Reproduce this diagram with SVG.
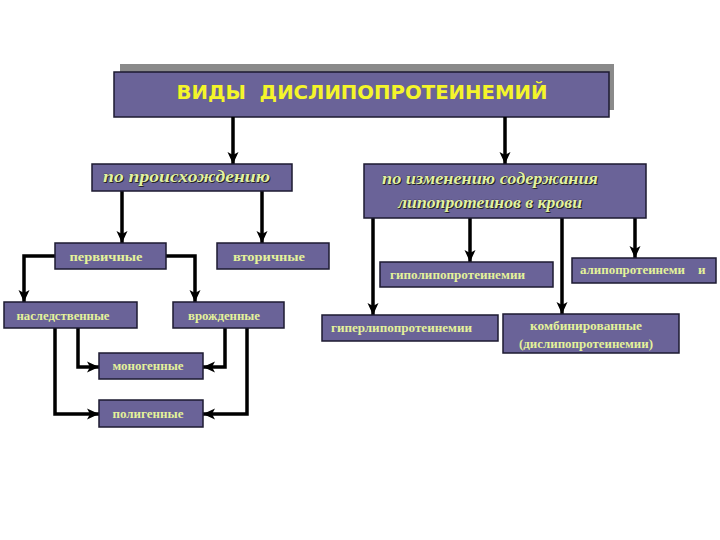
<svg xmlns="http://www.w3.org/2000/svg" width="720" height="540" viewBox="0 0 720 540">
<style>
.box{fill:#6a6398;stroke:#1c1a30;stroke-width:1.5}
.t{font-family:"Liberation Serif",serif;font-weight:bold;font-size:13px;fill:#e4f29a}
.h{font-family:"Liberation Serif",serif;font-weight:bold;font-style:italic;font-size:17px;fill:#e2f3a0;stroke:#2a2740;stroke-width:0.4;paint-order:stroke}
.hs{font-family:"Liberation Serif",serif;font-weight:bold;font-style:italic;font-size:17px;fill:#222}
.title{font-family:"DejaVu Sans","Liberation Sans",sans-serif;font-weight:bold;font-size:20px;fill:#f4f52a}
.c{fill:none;stroke:#000;stroke-width:3.5;marker-end:url(#ah)}
</style>
<defs>
<marker id="ah" markerUnits="userSpaceOnUse" markerWidth="14" markerHeight="14" viewBox="0 0 14 14" refX="13" refY="7" orient="auto">
<path d="M1,1.5 L13,7 L1,12.5 L4,7 Z" fill="#000"/>
</marker>
</defs>
<rect width="720" height="540" fill="#fff"/>
<g id="title">
<rect x="120" y="64" width="494" height="46" fill="#8a8a8a"/>
<rect class="box" x="114" y="72" width="495" height="45"/>
<text class="title" x="362" y="99" text-anchor="middle" textLength="371" lengthAdjust="spacingAndGlyphs" xml:space="preserve">ВИДЫ  ДИСЛИПОПРОТЕИНЕМИЙ</text>
</g>
<g id="connectors">
<path class="c" d="M233,117 V164"/>
<path class="c" d="M505,117 V164"/>
<path class="c" d="M122,191 V243"/>
<path class="c" d="M262,191 V243"/>
<path class="c" d="M55,256 H24 V302"/>
<path class="c" d="M166,256 H195 V302"/>
<path class="c" d="M78,328 V367 H99"/>
<path class="c" d="M55,328 V414 H99"/>
<path class="c" d="M225,328 V367 H203"/>
<path class="c" d="M247,328 V414 H203"/>
<path class="c" d="M373,218 V315"/>
<path class="c" d="M470,218 V262"/>
<path class="c" d="M562,218 V314"/>
<path class="c" d="M635,218 V258"/>
</g>
<g id="origin">
<rect class="box" x="92" y="164" width="200" height="27"/>
<text class="hs" x="104" y="183" textLength="167" lengthAdjust="spacingAndGlyphs">по происхождению</text>
<text class="h" x="103" y="182" textLength="167" lengthAdjust="spacingAndGlyphs">по происхождению</text>
</g>
<g id="content">
<rect class="box" x="364" y="164" width="282" height="54"/>
<text class="hs" x="383" y="185" textLength="216" lengthAdjust="spacingAndGlyphs">по изменению содержания</text>
<text class="h" x="382" y="184" textLength="216" lengthAdjust="spacingAndGlyphs">по изменению содержания</text>
<text class="hs" x="399" y="209" textLength="184" lengthAdjust="spacingAndGlyphs">липопротеинов в крови</text>
<text class="h" x="398" y="208" textLength="184" lengthAdjust="spacingAndGlyphs">липопротеинов в крови</text>
</g>
<g id="primary">
<rect class="box" x="55" y="243" width="111" height="26"/>
<text class="t" x="106" y="261" text-anchor="middle" textLength="73" lengthAdjust="spacingAndGlyphs">первичные</text>
</g>
<g id="secondary">
<rect class="box" x="217" y="243" width="112" height="26"/>
<text class="t" x="269" y="261" text-anchor="middle" textLength="72" lengthAdjust="spacingAndGlyphs">вторичные</text>
</g>
<g id="hereditary">
<rect class="box" x="4" y="302" width="133" height="26"/>
<text class="t" x="63" y="320" text-anchor="middle" textLength="93" lengthAdjust="spacingAndGlyphs">наследственные</text>
</g>
<g id="congenital">
<rect class="box" x="173" y="302" width="111" height="26"/>
<text class="t" x="224" y="320" text-anchor="middle" textLength="72" lengthAdjust="spacingAndGlyphs">врожденные</text>
</g>
<g id="monogenic">
<rect class="box" x="99" y="353" width="104" height="26"/>
<text class="t" x="148" y="370" text-anchor="middle" textLength="71" lengthAdjust="spacingAndGlyphs">моногенные</text>
</g>
<g id="polygenic">
<rect class="box" x="99" y="400" width="104" height="27"/>
<text class="t" x="148" y="418" text-anchor="middle" textLength="71" lengthAdjust="spacingAndGlyphs">полигенные</text>
</g>
<g id="hypo">
<rect class="box" x="380" y="262" width="173" height="25"/>
<text class="t" x="390" y="279" textLength="135" lengthAdjust="spacingAndGlyphs">гиполипопротеинемии</text>
</g>
<g id="alipo">
<rect class="box" x="572" y="258" width="144" height="25"/>
<text class="t" x="580" y="274" textLength="105" lengthAdjust="spacingAndGlyphs">алипопротеинеми</text>
<text class="t" x="698" y="274">и</text>
</g>
<g id="hyper">
<rect class="box" x="322" y="315" width="176" height="26"/>
<text class="t" x="331" y="332" textLength="141" lengthAdjust="spacingAndGlyphs">гиперлипопротеинемии</text>
</g>
<g id="combined">
<rect class="box" x="503" y="314" width="176" height="39"/>
<text class="t" x="586" y="330" text-anchor="middle" textLength="112" lengthAdjust="spacingAndGlyphs">комбинированные</text>
<text class="t" x="586" y="348" text-anchor="middle" textLength="134" lengthAdjust="spacingAndGlyphs">(дислипопротеинемии)</text>
</g>
</svg>
